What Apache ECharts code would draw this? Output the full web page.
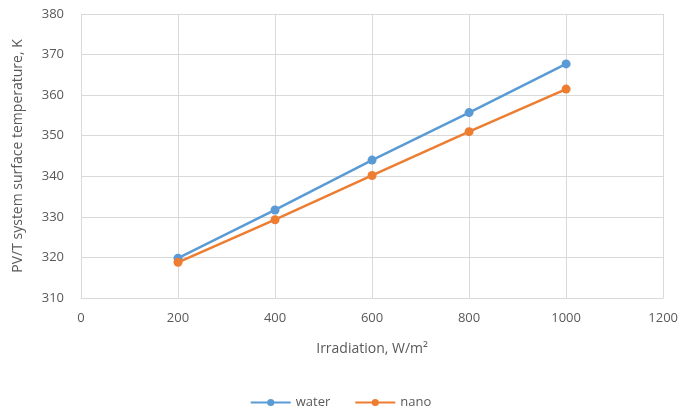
<!DOCTYPE html>
<html>
<head>
<meta charset="utf-8">
<script src="https://cdn.jsdelivr.net/npm/echarts@6/dist/echarts.min.js"></script>
<style>html,body{margin:0;padding:0;background:#fff}#c{width:681px;height:416px}</style>
</head>
<body>
<div id="c"></div>
<script>
const irradiation = [200, 400, 600, 800, 1000];
const waterTemp = [319.8, 331.7, 344.0, 355.7, 367.7];
const nanoTemp = [318.8, 329.3, 340.2, 351.0, 361.5];
const seriesNames = ['water', 'nano'];

const chart = echarts.init(document.getElementById('c'));
const font = 'Open Sans';
const gridColor = '#d9d9d9';
const textColor = '#595959';
chart.setOption({
  animation: false,
  backgroundColor: '#fff',
  grid: {left: 81, right: 17, top: 14, bottom: 118, containLabel: false},
  legend: {
    data: seriesNames,
    bottom: 2,
    left: 'center',
    itemWidth: 40,
    itemHeight: 9,
    itemGap: 24,
    textStyle: {color: textColor, fontFamily: font, fontSize: 13}
  },
  xAxis: {
    type: 'value', min: 0, max: 1200, interval: 200,
    name: 'Irradiation, W/m²', nameLocation: 'middle', nameGap: 44,
    nameTextStyle: {color: textColor, fontFamily: font, fontSize: 14},
    axisLine: {show: true, lineStyle: {color: gridColor, width: 1}},
    axisTick: {show: false},
    axisLabel: {color: textColor, fontFamily: font, fontSize: 13, margin: 14, formatter: v => String(v)},
    splitLine: {show: true, lineStyle: {color: gridColor, width: 1}}
  },
  yAxis: {
    type: 'value', min: 310, max: 380, interval: 10,
    name: 'PV/T system surface temperature, K', nameLocation: 'middle', nameGap: 56,
    nameTextStyle: {color: textColor, fontFamily: font, fontSize: 14},
    axisLine: {show: false},
    axisTick: {show: false},
    axisLabel: {color: textColor, fontFamily: font, fontSize: 13, margin: 17, formatter: v => String(v)},
    splitLine: {show: true, lineStyle: {color: gridColor, width: 1}}
  },
  series: [
    {name: seriesNames[0], type: 'line', data: irradiation.map((x, i) => [x, waterTemp[i]]),
     symbol: 'circle', symbolSize: 9, color: '#5b9bd5', lineStyle: {width: 2.5}},
    {name: seriesNames[1], type: 'line', data: irradiation.map((x, i) => [x, nanoTemp[i]]),
     symbol: 'circle', symbolSize: 9, color: '#ed7d31', lineStyle: {width: 2.5}}
  ]
});
</script>
</body>
</html>
